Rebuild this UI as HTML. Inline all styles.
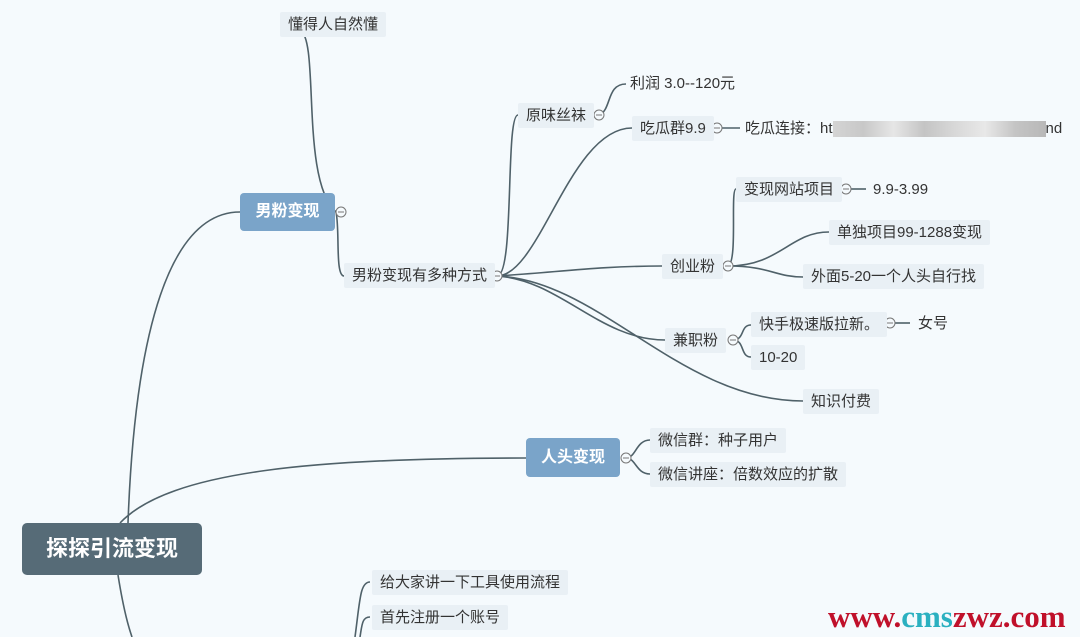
<!DOCTYPE html>
<html><head><meta charset="utf-8"><style>
body{margin:0;width:1080px;height:637px;overflow:hidden;background:#f5fafd;font-family:"Liberation Sans","Noto Sans CJK SC",sans-serif;position:relative}
.n{position:absolute;background:#e9f0f5;color:#333;font-size:15px;line-height:25px;height:25px;padding:0 8px;white-space:nowrap;border-radius:2px}
.t{position:absolute;color:#333;font-size:15px;line-height:25px;white-space:nowrap}
.b{position:absolute;background:#7aa4c9;color:#fff;font-weight:bold;font-size:16px;border-radius:4px;text-align:center}
svg{position:absolute;left:0;top:0}
</style></head><body>
<svg width="1080" height="637" fill="none" stroke="#4f6169" stroke-width="1.6">
<path d="M128 523 C135 330 170 212 240 212"/>
<path d="M120 523 C170 470 320 458 526 458"/>
<path d="M118 575 C122 600 126 620 132 637"/>
<path d="M336 212 C300 180 320 40 300 30 C292 24 288 24 283 24"/>
<path d="M336 212 C340 230 335 276 344 276"/>
<path d="M497 276 C515 276 505 115 518 115"/>
<path d="M497 276 C540 276 570 128 632 128"/>
<path d="M497 276 C560 272 600 266 662 266"/>
<path d="M497 276 C560 280 600 340 665 340"/>
<path d="M497 276 C600 280 680 401 803 401"/>
<path d="M599 115 C612 110 606 84 626 84"/>
<path d="M722 128 L740 128"/>
<path d="M728 266 C738 262 730 189 736 189"/>
<path d="M728 266 C780 266 790 232 829 232"/>
<path d="M728 266 C770 266 775 277 803 277"/>
<path d="M851 189 L866 189"/>
<path d="M733 340 C745 340 740 325 751 325"/>
<path d="M733 340 C745 340 740 357 751 357"/>
<path d="M895 323 L910 323"/>
<path d="M626 458 C636 458 636 440 650 440"/>
<path d="M626 458 C636 458 636 474 650 474"/>
<path d="M355 637 C360 600 360 582 370 582"/>
<path d="M360 637 C362 625 362 617 370 617"/>
<g fill="#f5fafd" stroke="#777" stroke-width="1">
<circle cx="341" cy="212" r="5"/><circle cx="497" cy="276" r="5"/><circle cx="599" cy="115" r="5"/><circle cx="717" cy="128" r="5"/><circle cx="728" cy="266" r="5"/><circle cx="846" cy="189" r="5"/><circle cx="733" cy="340" r="5"/><circle cx="890" cy="323" r="5"/><circle cx="626" cy="458" r="5"/>
</g>
<g stroke="#777" stroke-width="1">
<path d="M338 212h6M494 276h6M596 115h6M714 128h6M725 266h6M843 189h6M730 340h6M887 323h6M623 458h6"/>
</g>
</svg>
<div class="b" style="left:22px;top:523px;width:180px;height:52px;line-height:52px;background:#566b77;font-size:22px;border-radius:5px">探探引流变现</div>
<div class="b" style="left:240px;top:193px;width:95px;height:38px;line-height:38px">男粉变现</div>
<div class="b" style="left:526px;top:438px;width:94px;height:39px;line-height:39px">人头变现</div>
<div class="n" style="left:280px;top:12px">懂得人自然懂</div>
<div class="n" style="left:344px;top:263px">男粉变现有多种方式</div>
<div class="n" style="left:518px;top:103px">原味丝袜</div>
<div class="t" style="left:630px;top:71px">利润 3.0--120元</div>
<div class="n" style="left:632px;top:116px">吃瓜群9.9</div>
<div class="t" style="left:745px;top:116px">吃瓜连接：ht<span style="display:inline-block;width:213px;height:16px;background:linear-gradient(90deg,#d4d4d4,#c8c8c8,#e6e6e6,#c4c4c4,#d8d8d8,#e8e8e8,#c4c4c4,#b8b8b8);vertical-align:middle"></span>nd</div>
<div class="n" style="left:662px;top:254px">创业粉</div>
<div class="n" style="left:736px;top:177px">变现网站项目</div>
<div class="t" style="left:873px;top:177px">9.9-3.99</div>
<div class="n" style="left:829px;top:220px">单独项目99-1288变现</div>
<div class="n" style="left:803px;top:264px">外面5-20一个人头自行找</div>
<div class="n" style="left:665px;top:328px">兼职粉</div>
<div class="n" style="left:751px;top:312px">快手极速版拉新。</div>
<div class="t" style="left:918px;top:311px">女号</div>
<div class="n" style="left:751px;top:345px">10-20</div>
<div class="n" style="left:803px;top:389px">知识付费</div>
<div class="n" style="left:650px;top:428px">微信群：种子用户</div>
<div class="n" style="left:650px;top:462px">微信讲座：倍数效应的扩散</div>
<div class="n" style="left:372px;top:570px">给大家讲一下工具使用流程</div>
<div class="n" style="left:372px;top:605px">首先注册一个账号</div>
<div style="position:absolute;left:828px;top:599px;font-family:'Liberation Serif',serif;font-weight:bold;font-size:31px;line-height:36px;color:#c0102a">www.<span style="color:#2bb0c0">cms</span>zwz.com</div>
</body></html>
